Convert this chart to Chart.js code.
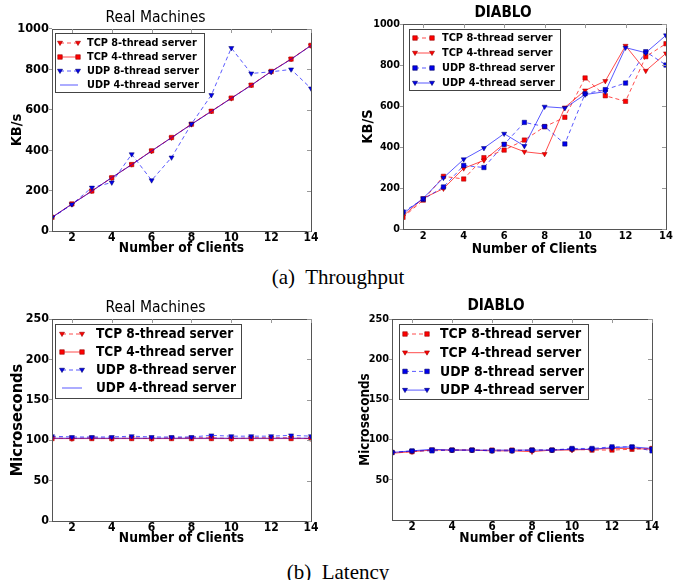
<!DOCTYPE html>
<html>
<head>
<meta charset="utf-8">
<script src="https://cdn.jsdelivr.net/npm/chart.js@4.4.1/dist/chart.umd.min.js"></script>
<style>
body { margin:0; background:#fff; width:676px; height:580px; position:relative; overflow:hidden; }
canvas { position:absolute; }
.cap { position:absolute; left:0; width:676px; text-align:center; font-family:"Liberation Serif", "Times New Roman", serif; font-size:21px; line-height:24px; color:#000; }
</style>
</head>
<body>
<canvas id="tputReal" width="321" height="258" style="left:0;top:0"></canvas>
<canvas id="tputDiablo" width="336" height="258" style="left:340px;top:0"></canvas>
<div class="cap" style="top:265px">(a)&nbsp; Throughput</div>
<canvas id="latReal" width="321" height="263" style="left:0;top:285px"></canvas>
<canvas id="latDiablo" width="336" height="263" style="left:340px;top:285px"></canvas>
<div class="cap" style="top:560px">(b)&nbsp; Latency</div>

<script>
// x axis: number of clients
const clients = [1, 2, 3, 4, 5, 6, 7, 8, 9, 10, 11, 12, 13, 14];
const clientTicks = [2, 4, 6, 8, 10, 12, 14];
const tputTicks = [0, 200, 400, 600, 800, 1000];
const latTicksReal = [0, 50, 100, 150, 200, 250];
const latTicksDiablo = [50, 100, 150, 200, 250];

// throughput (KB/s), real machines
const realTputTcp8 = [67, 133, 199, 263, 330, 396, 462, 528, 594, 657, 723, 789, 852, 918];
const realTputTcp4 = [68, 134, 198, 264, 329, 397, 463, 529, 593, 658, 722, 790, 851, 919];
const realTputUdp8 = [66, 132, 215, 240, 380, 251, 364, 530, 673, 906, 780, 788, 800, 706];
const realTputUdp4 = [67, 133, 197, 265, 328, 396, 462, 528, 592, 657, 721, 789, 850, 918];

// throughput (KB/s), DIABLO
const diabloTputTcp8 = [57, 141, 257, 244, 348, 385, 434, 499, 545, 737, 650, 623, 841, 904];
const diabloTputTcp4 = [63, 150, 197, 296, 335, 415, 377, 366, 593, 676, 722, 894, 772, 857];
const diabloTputUdp8 = [83, 145, 205, 310, 300, 413, 520, 500, 415, 660, 680, 712, 865, 800];
const diabloTputUdp4 = [75, 150, 250, 340, 395, 465, 405, 597, 590, 656, 670, 885, 860, 945];

// latency (microseconds), real machines
const realLatTcp8 = [103, 102, 103, 102, 103, 102, 103, 103, 103, 102, 103, 103, 103, 102];
const realLatTcp4 = [102, 102, 102, 102, 102, 102, 102, 102, 102, 102, 102, 102, 102, 102];
const realLatUdp8 = [105, 104, 104, 104, 105, 104, 104, 104, 106, 105, 105, 105, 106, 105];
const realLatUdp4 = [102.5, 102.5, 102.5, 102.5, 102.5, 102.5, 102.5, 102.5, 102.5, 102.5, 102.5, 102.5, 102.5, 102.5];

// latency (microseconds), DIABLO
const diabloLatTcp8 = [84, 85, 87, 87, 87, 87, 87, 87, 87, 88, 87, 87, 88, 89];
const diabloLatTcp4 = [83, 85, 87, 87, 87, 86, 86, 85, 87, 87, 88, 89, 89, 88];
const diabloLatUdp8 = [84, 86, 86, 87, 87, 86, 86, 87, 87, 89, 89, 91, 91, 86];
const diabloLatUdp4 = [84, 86, 88, 87, 87, 87, 87, 87, 87, 88, 88, 90, 91, 89];

const LABELS = ['TCP 8-thread server', 'TCP 4-thread server', 'UDP 8-thread server', 'UDP 4-thread server'];
const FONT = '"DejaVu Sans Condensed", "DejaVu Sans", sans-serif';

// line styles
const RED_LINE = 'rgba(255,0,0,0.7)';
const BLUE_LINE = 'rgba(0,0,255,0.65)';
const RED = { line: RED_LINE, fill: '#ff0000', edge: '#990000' };
const BLUE = { line: BLUE_LINE, fill: '#0000ee', edge: '#000066' };

// real machines: triangles on 8-thread, squares on TCP 4, plain line on UDP 4
const realStyles = [
    Object.assign({ dash: true, marker: 'tri' }, RED),
    Object.assign({ dash: false, marker: 'rect' }, RED),
    Object.assign({ dash: true, marker: 'tri' }, BLUE),
    Object.assign({ dash: false, marker: null }, BLUE)
];
// DIABLO: squares on 8-thread (dashed), triangles on 4-thread (solid)
const diabloStyles = [
    Object.assign({ dash: true, marker: 'rect' }, RED),
    Object.assign({ dash: false, marker: 'tri' }, RED),
    Object.assign({ dash: true, marker: 'rect' }, BLUE),
    Object.assign({ dash: false, marker: 'tri' }, BLUE)
];

function drawMarker(ctx, kind, x, y, size) {
    ctx.beginPath();
    if (kind === 'rect') {
        ctx.rect(x - size / 2, y - size / 2, size, size);
    } else {
        ctx.moveTo(x - size / 2, y - size * 0.35);
        ctx.lineTo(x + size / 2, y - size * 0.35);
        ctx.lineTo(x, y + size * 0.5);
        ctx.closePath();
    }
    ctx.fill();
    ctx.stroke();
}

// frame round the plot area + small inward ticks on the top/right spines
const framePlugin = {
    id: 'frame',
    afterDatasetsDraw(chart) {
        const { ctx, chartArea: a, scales } = chart;
        ctx.save();
        ctx.strokeStyle = '#555';
        ctx.lineWidth = 1;
        ctx.strokeRect(Math.round(a.left) + 0.5, Math.round(a.top) + 0.5,
            Math.round(a.right - a.left), Math.round(a.bottom - a.top));
        ctx.strokeStyle = '#999';
        ctx.beginPath();
        scales.y.ticks.forEach(t => {
            const py = Math.round(scales.y.getPixelForValue(t.value)) + 0.5;
            ctx.moveTo(a.right - 4, py); ctx.lineTo(a.right, py);
        });
        scales.x.ticks.forEach(t => {
            const px = Math.round(scales.x.getPixelForValue(t.value)) + 0.5;
            ctx.moveTo(px, a.top); ctx.lineTo(px, a.top + 4);
        });
        ctx.stroke();
        ctx.restore();
    }
};

// boxed legend inside the axes, markers at both ends of the sample line
const boxLegendPlugin = {
    id: 'boxLegend',
    afterDraw(chart, args, lg) {
        if (!lg || !lg.w) return;
        const ctx = chart.ctx;
        ctx.save();
        ctx.fillStyle = '#fff';
        ctx.fillRect(lg.x, lg.y, lg.w, lg.h);
        ctx.strokeStyle = '#444';
        ctx.lineWidth = 1;
        ctx.strokeRect(lg.x + 0.5, lg.y + 0.5, lg.w, lg.h);
        ctx.font = 'bold ' + lg.size + 'px ' + FONT;
        ctx.textBaseline = 'middle';
        chart.data.datasets.forEach((ds, i) => {
            const y = lg.y + lg.first + i * lg.gap;
            ctx.strokeStyle = ds.borderColor;
            ctx.lineWidth = 1;
            ctx.setLineDash(ds.borderDash);
            ctx.beginPath();
            ctx.moveTo(lg.x0, y); ctx.lineTo(lg.x1, y);
            ctx.stroke();
            ctx.setLineDash([]);
            if (ds.mk) {
                ctx.fillStyle = ds.pointBackgroundColor;
                ctx.strokeStyle = ds.pointBorderColor;
                ctx.lineWidth = 0.6;
                drawMarker(ctx, ds.mk, lg.x0, y, ds.mkSize);
                drawMarker(ctx, ds.mk, lg.x1, y, ds.mkSize);
            }
            ctx.fillStyle = '#000';
            ctx.fillText(ds.label, lg.tx, y + 0.5);
        });
        ctx.restore();
    }
};

function buildDatasets(seriesData, styles) {
    return seriesData.map((vals, i) => {
        const st = styles[i];
        return {
            label: LABELS[i],
            data: clients.map((c, j) => ({ x: c, y: vals[j] })),
            borderColor: st.line,
            borderWidth: 1,
            borderDash: st.dash ? [4, 3] : [],
            tension: 0,
            mk: st.marker,
            mkSize: st.marker === 'rect' ? 4.5 : 5,
            pointStyle: st.marker === 'rect' ? 'rect' : (st.marker ? 'triangle' : false),
            pointRotation: st.marker === 'tri' ? 180 : 0,
            pointRadius: st.marker ? (st.marker === 'rect' ? 3.1 : 2.9) : 0,
            pointBackgroundColor: st.fill,
            pointBorderColor: st.edge,
            pointBorderWidth: 0.5,
            order: seriesData.length - i
        };
    });
}

function makePanel(id, p) {
    const font = (size, weight) => ({ family: FONT, size: size, weight: weight || 'bold' });
    return new Chart(document.getElementById(id), {
        type: 'line',
        data: { datasets: buildDatasets(p.series, p.styles) },
        plugins: [framePlugin, boxLegendPlugin],
        options: {
            responsive: false,
            animation: false,
            layout: { padding: { left: 0, right: p.padRight, top: 0, bottom: 0 } },
            plugins: {
                legend: { display: false },
                tooltip: { enabled: false },
                title: {
                    display: true, text: p.title, color: '#000',
                    font: font(p.titleSize, p.titleWeight),
                    padding: { top: p.titlePadTop, bottom: p.titlePadBottom }
                },
                boxLegend: p.legend
            },
            scales: {
                x: {
                    type: 'linear', min: 1, max: 14,
                    afterBuildTicks: sc => { sc.ticks = clientTicks.map(v => ({ value: v })); },
                    afterFit: sc => { sc.height = p.xHeight; },
                    grid: { drawOnChartArea: false, drawTicks: false },
                    border: { display: false },
                    ticks: { color: '#000', font: font(p.xTickSize), padding: p.xTickPad, maxRotation: 0, autoSkip: false,
                             callback: v => String(v) },
                    title: {
                        display: true, text: 'Number of Clients', color: '#000',
                        font: font(13.7), padding: { top: 0, bottom: p.xTitlePad }
                    }
                },
                y: {
                    type: 'linear', min: p.yMin, max: p.yMax,
                    afterBuildTicks: sc => { sc.ticks = p.yTicks.map(v => ({ value: v })); },
                    afterFit: sc => { sc.width = p.yWidth; },
                    grid: { drawOnChartArea: false, drawTicks: true, tickLength: 3, color: '#999' },
                    border: { display: false },
                    ticks: { color: '#000', font: font(p.yTickSize), padding: 0, autoSkip: false,
                             callback: v => String(v) },
                    title: {
                        display: true, text: p.yTitle, color: '#000',
                        font: font(p.yTitleSize), padding: { top: p.yTitlePad, bottom: 0 }
                    }
                }
            }
        }
    });
}

// --- (a) throughput ---
makePanel('tputReal', {
    series: [realTputTcp8, realTputTcp4, realTputUdp8, realTputUdp4], styles: realStyles,
    title: 'Real Machines', titleSize: 15.5, titleWeight: 'normal', titlePadTop: 8.7, titlePadBottom: 1.7,
    padRight: 10, xHeight: 27, yWidth: 52,
    xTickSize: 12, xTickPad: 0, xTitlePad: 1,
    yMin: 0, yMax: 1000, yTicks: tputTicks, yTickSize: 12.7,
    yTitle: 'KB/s', yTitleSize: 14.5, yTitlePad: 8.3,
    legend: { x: 55, y: 33, w: 149, h: 59, first: 10, gap: 14, x0: 60, x1: 78, tx: 87, size: 10.8 }
});

makePanel('tputDiablo', {
    series: [diabloTputTcp8, diabloTputTcp4, diabloTputUdp8, diabloTputUdp4], styles: diabloStyles,
    title: 'DIABLO', titleSize: 15.2, titleWeight: 'bold', titlePadTop: 4.2, titlePadBottom: 1.6,
    padRight: 10, xHeight: 29, yWidth: 63,
    xTickSize: 11, xTickPad: 1, xTitlePad: 0,
    yMin: 0, yMax: 1000, yTicks: tputTicks, yTickSize: 10.7,
    yTitle: 'KB/S', yTitleSize: 14.5, yTitlePad: 19.3,
    legend: { x: 69, y: 29, w: 151, h: 61, first: 9, gap: 15, x0: 75, x1: 92, tx: 102, size: 10.9 }
});

// --- (b) latency ---
makePanel('latReal', {
    series: [realLatTcp8, realLatTcp4, realLatUdp8, realLatUdp4], styles: realStyles,
    title: 'Real Machines', titleSize: 15.5, titleWeight: 'normal', titlePadTop: 13.7, titlePadBottom: 1.7,
    padRight: 10, xHeight: 27, yWidth: 52,
    xTickSize: 12, xTickPad: 0, xTitlePad: 1.5,
    yMin: 0, yMax: 250, yTicks: latTicksReal, yTickSize: 12.4,
    yTitle: 'Microseconds', yTitleSize: 16.3, yTitlePad: 7.7,
    legend: { x: 55, y: 39, w: 186, h: 74, first: 10, gap: 18, x0: 62, x1: 82, tx: 96, size: 13.5 }
});

makePanel('latDiablo', {
    series: [diabloLatTcp8, diabloLatTcp4, diabloLatUdp8, diabloLatUdp4], styles: diabloStyles,
    title: 'DIABLO', titleSize: 15.2, titleWeight: 'bold', titlePadTop: 11.9, titlePadBottom: 3.9,
    padRight: 24, xHeight: 28, yWidth: 52,
    xTickSize: 11.5, xTickPad: 0, xTitlePad: 1.8,
    yMin: 0, yMax: 250, yTicks: latTicksDiablo, yTickSize: 10.8,
    yTitle: 'Microseconds', yTitleSize: 13.4, yTitlePad: 17,
    legend: { x: 59, y: 39, w: 189, h: 75, first: 10, gap: 18.7, x0: 65, x1: 87, tx: 100, size: 13.9 }
});
</script>
</body>
</html>
